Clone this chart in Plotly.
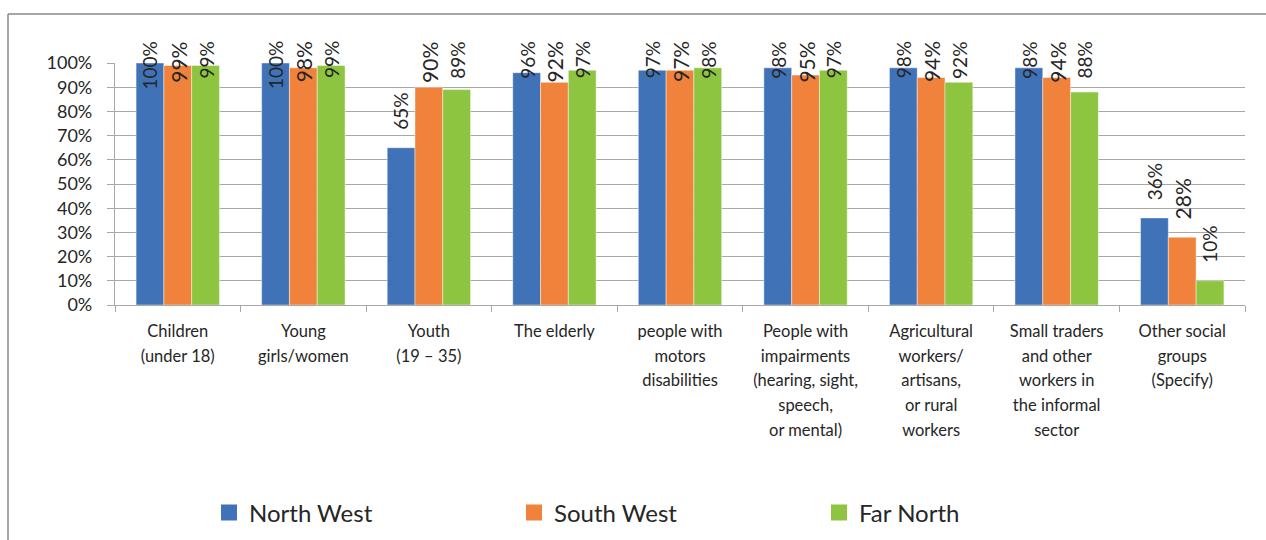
import plotly.graph_objects as go

categories = [
    "Children<br>(under 18)",
    "Young<br>girls/women",
    "Youth<br>(19 – 35)",
    "The elderly",
    "people with<br>motors<br>disabilities",
    "People with<br>impairments<br>(hearing, sight,<br>speech,<br>or mental)",
    "Agricultural<br>workers/<br>artisans,<br>or rural<br>workers",
    "Small traders<br>and other<br>workers in<br>the informal<br>sector",
    "Other social<br>groups<br>(Specify)",
]
north_west = [100, 100, 65, 96, 97, 98, 98, 98, 36]
south_west = [99, 98, 90, 92, 97, 95, 94, 94, 28]
far_north = [99, 99, 89, 97, 98, 97, 92, 88, 10]
series_names = ["North West", "South West", "Far North"]
y_ticks = [0, 10, 20, 30, 40, 50, 60, 70, 80, 90, 100]

# style / layout constants
W, H = 1266, 540
ML, MR, MT, MB = 115, 21, 63, 235
PLOT_W = W - ML - MR
PLOT_H = H - MT - MB
COLORS = ["#4072B8", "#F0823C", "#8DC540"]
LABEL_FS = [19, 21, 19]
FONT = "Lato"
TXT = "#262626"
GRID = "#A8A8A8"
BARGAP = 0.336
GAP_PX = 17.5
CLAMP_PX = 21.5

def px_to_paper_x(px):
    return (px - ML) / PLOT_W

def px_to_paper_y(py):
    return (H - MB - py) / PLOT_H

def label_len(s, fs):
    return fs * sum(0.80 if c == "%" else 0.58 for c in s)

fig = go.Figure()
series = [north_west, south_west, far_north]
tick_text = ['<span style="font-size:16.5px">%s</span>' % c.replace("<br>", '</span><br><span style="font-size:16.5px">') for c in categories]

for name, vals, col in zip(series_names, series, COLORS):
    fig.add_trace(go.Bar(
        name=name, x=categories, y=vals, marker_color=col,
        marker_line=dict(color="rgba(255,255,255,0.55)", width=0.8),
        showlegend=False,
    ))
# legend proxies
for name, col in zip(series_names, COLORS):
    fig.add_trace(go.Scatter(
        name=name, x=[None], y=[None], mode="markers",
        marker=dict(symbol="square", size=16, color=col),
    ))

cat_px = PLOT_W / len(categories)
bar_px = cat_px * (1 - BARGAP) / 3
annotations = []
for i, vals in enumerate(series):
    fs = LABEL_FS[i]
    for cat, v in zip(categories, vals):
        txt = f"{v}%"
        L = label_len(txt, fs)
        bar_top = v / 100 * PLOT_H
        common = dict(x=cat, xref="x", xshift=(i - 1) * bar_px, text=txt,
                      textangle=-90, showarrow=False, xanchor="center",
                      font=dict(family=FONT, size=fs, color=TXT),
                      borderpad=0, borderwidth=0)
        if bar_top + GAP_PX + L > PLOT_H + CLAMP_PX:
            annotations.append(dict(y=1 + CLAMP_PX / PLOT_H, yref="paper",
                                    yanchor="top", **common))
        else:
            annotations.append(dict(y=v, yref="y", yanchor="bottom",
                                    yshift=GAP_PX, **common))

shapes = [
    dict(type="line", xref="paper", yref="paper",
         x0=px_to_paper_x(8), y0=px_to_paper_y(545),
         x1=px_to_paper_x(8), y1=px_to_paper_y(14),
         line=dict(color="#8A8A8A", width=1.5)),
    dict(type="line", xref="paper", yref="paper",
         x0=px_to_paper_x(8), y0=px_to_paper_y(14),
         x1=px_to_paper_x(1270), y1=px_to_paper_y(14),
         line=dict(color="#8A8A8A", width=1.5)),
]

fig.update_layout(
    width=W, height=H,
    margin=dict(l=ML, r=MR, t=MT, b=MB, pad=0, autoexpand=False),
    paper_bgcolor="white", plot_bgcolor="white",
    barmode="group", bargap=BARGAP, bargroupgap=0,
    font=dict(family=FONT, color=TXT),
    annotations=annotations, shapes=shapes,
    legend=dict(orientation="h", x=px_to_paper_x(209), xanchor="left",
                y=px_to_paper_y(513), yanchor="middle",
                font=dict(family=FONT, size=24, color=TXT),
                entrywidth=260, entrywidthmode="pixels",
                bgcolor="rgba(0,0,0,0)", itemsizing="trace"),
    xaxis=dict(type="category", tickmode="array", tickvals=categories,
               ticktext=tick_text, showline=True, linecolor=GRID, linewidth=1.3,
               ticks="outside", tickson="boundaries", ticklen=6,
               tickcolor=GRID, tickwidth=1.3, showgrid=False,
               tickfont=dict(family=FONT, size=19, color=TXT),
               ticklabelstandoff=8, tickangle=0),
    yaxis=dict(range=[0, 100], tickmode="array", tickvals=y_ticks,
               ticktext=[f"{t}%" for t in y_ticks],
               showgrid=True, gridcolor=GRID, gridwidth=1.3,
               showline=True, linecolor=GRID, linewidth=1.3,
               ticks="outside", ticklen=7, tickcolor=GRID, tickwidth=1.3,
               tickfont=dict(family=FONT, size=18, color=TXT),
               ticklabelstandoff=11, zeroline=False),
)

fig.write_html("out.html")
